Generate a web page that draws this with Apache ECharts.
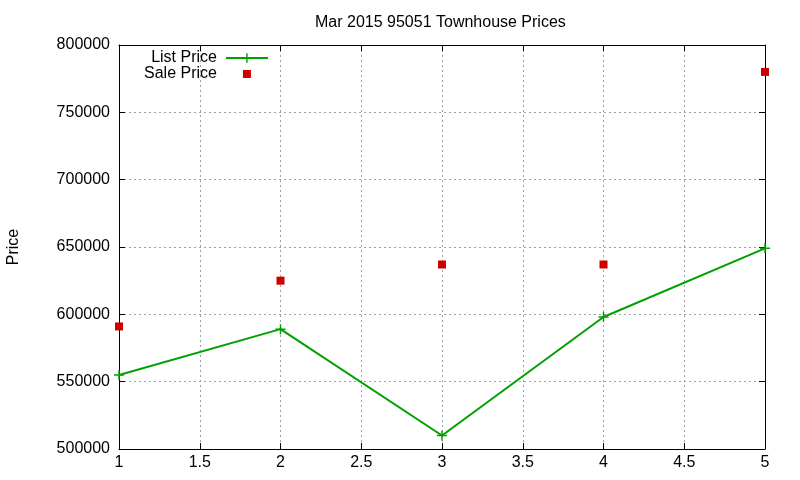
<!DOCTYPE html>
<html>
<head>
<meta charset="utf-8">
<script src="https://cdn.jsdelivr.net/npm/echarts@6/dist/echarts.min.js"></script>
<style>
  html, body { margin: 0; padding: 0; background: #fff; }
  #chart { width: 800px; height: 480px; }
</style>
</head>
<body>
<div id="chart"></div>
<script>
// data
const months = [1, 2, 3, 4, 5];
const listPrice = [555000, 589000, 510000, 598000, 649000];
const salePrice = [591000, 625000, 637000, 637000, 780000];

const font = 'Liberation Sans, Arial, sans-serif';
const plusIcon = 'path://M4,0h1.4v4h4v1.4h-4v4h-1.4v-4h-4v-1.4h4z';

let chart = echarts.init(document.getElementById('chart'));

function mirrorAxis(base) {
  return Object.assign({
    axisLine: { show: true, lineStyle: { color: '#000', width: 1 } },
    axisTick: { show: true, inside: true, length: 6, lineStyle: { color: '#000' } },
    axisLabel: { show: false },
    splitLine: { show: false }
  }, base);
}

chart.setOption({
  backgroundColor: '#ffffff',
  animation: false,
  title: {
    text: 'Mar 2015 95051 Townhouse Prices',
    left: 310,
    top: 10,
    textStyle: { fontFamily: font, fontSize: 16, fontWeight: 'normal', color: '#000' }
  },
  legend: {
    orient: 'vertical',
    left: 139,
    top: 45,
    align: 'right',
    itemWidth: 42,
    itemHeight: 12,
    itemGap: 0,
    textStyle: { fontFamily: font, fontSize: 16, color: '#000', padding: [0, 4, 0, 0] },
    data: [
      { name: 'List Price' },
      { name: 'Sale Price', icon: 'path://M0,0M2,2h8v8h-8zM12,12' }
    ]
  },
  grid: { left: 119, right: 35, top: 45, bottom: 31, outerBoundsMode: 'none' },
  xAxis: [
    {
      type: 'value',
      min: 1,
      max: 5,
      interval: 0.5,
      axisLine: { show: true, onZero: false, lineStyle: { color: '#000' } },
      axisTick: { show: true, inside: true, length: 6, lineStyle: { color: '#000' } },
      axisLabel: { fontFamily: font, fontSize: 16, color: '#000', margin: 6 },
      splitLine: { show: true, lineStyle: { color: '#a0a0a0', type: [2, 3], width: 1 } }
    },
    mirrorAxis({ type: 'value', position: 'top', min: 1, max: 5, interval: 0.5 })
  ],
  yAxis: [
    {
      type: 'value',
      min: 500000,
      max: 800000,
      interval: 50000,
      name: 'Price',
      nameLocation: 'middle',
      nameGap: 97,
      nameTextStyle: { fontFamily: font, fontSize: 16, color: '#000' },
      axisLine: { show: true, onZero: false, lineStyle: { color: '#000' } },
      axisTick: { show: true, inside: true, length: 6, lineStyle: { color: '#000' } },
      axisLabel: { fontFamily: font, fontSize: 16, color: '#000', margin: 9, formatter: v => String(v) },
      splitLine: { show: true, lineStyle: { color: '#a0a0a0', type: [2, 3], width: 1 } }
    },
    mirrorAxis({ type: 'value', position: 'right', min: 500000, max: 800000, interval: 50000 })
  ],
  series: [
    {
      name: 'List Price',
      type: 'line',
      data: months.map((m, i) => [m, listPrice[i]]),
      color: '#00a000',
      lineStyle: { width: 2, color: '#00a000' },
      symbol: plusIcon,
      symbolSize: 10,
      showSymbol: true,
      itemStyle: { color: '#00a000' },
      z: 3
    },
    {
      name: 'Sale Price',
      type: 'scatter',
      data: months.map((m, i) => [m, salePrice[i]]),
      color: '#cc0000',
      symbol: 'rect',
      symbolSize: 8,
      itemStyle: { color: '#cc0000', opacity: 1 },
      z: 4
    }
  ]
});
</script>
</body>
</html>
